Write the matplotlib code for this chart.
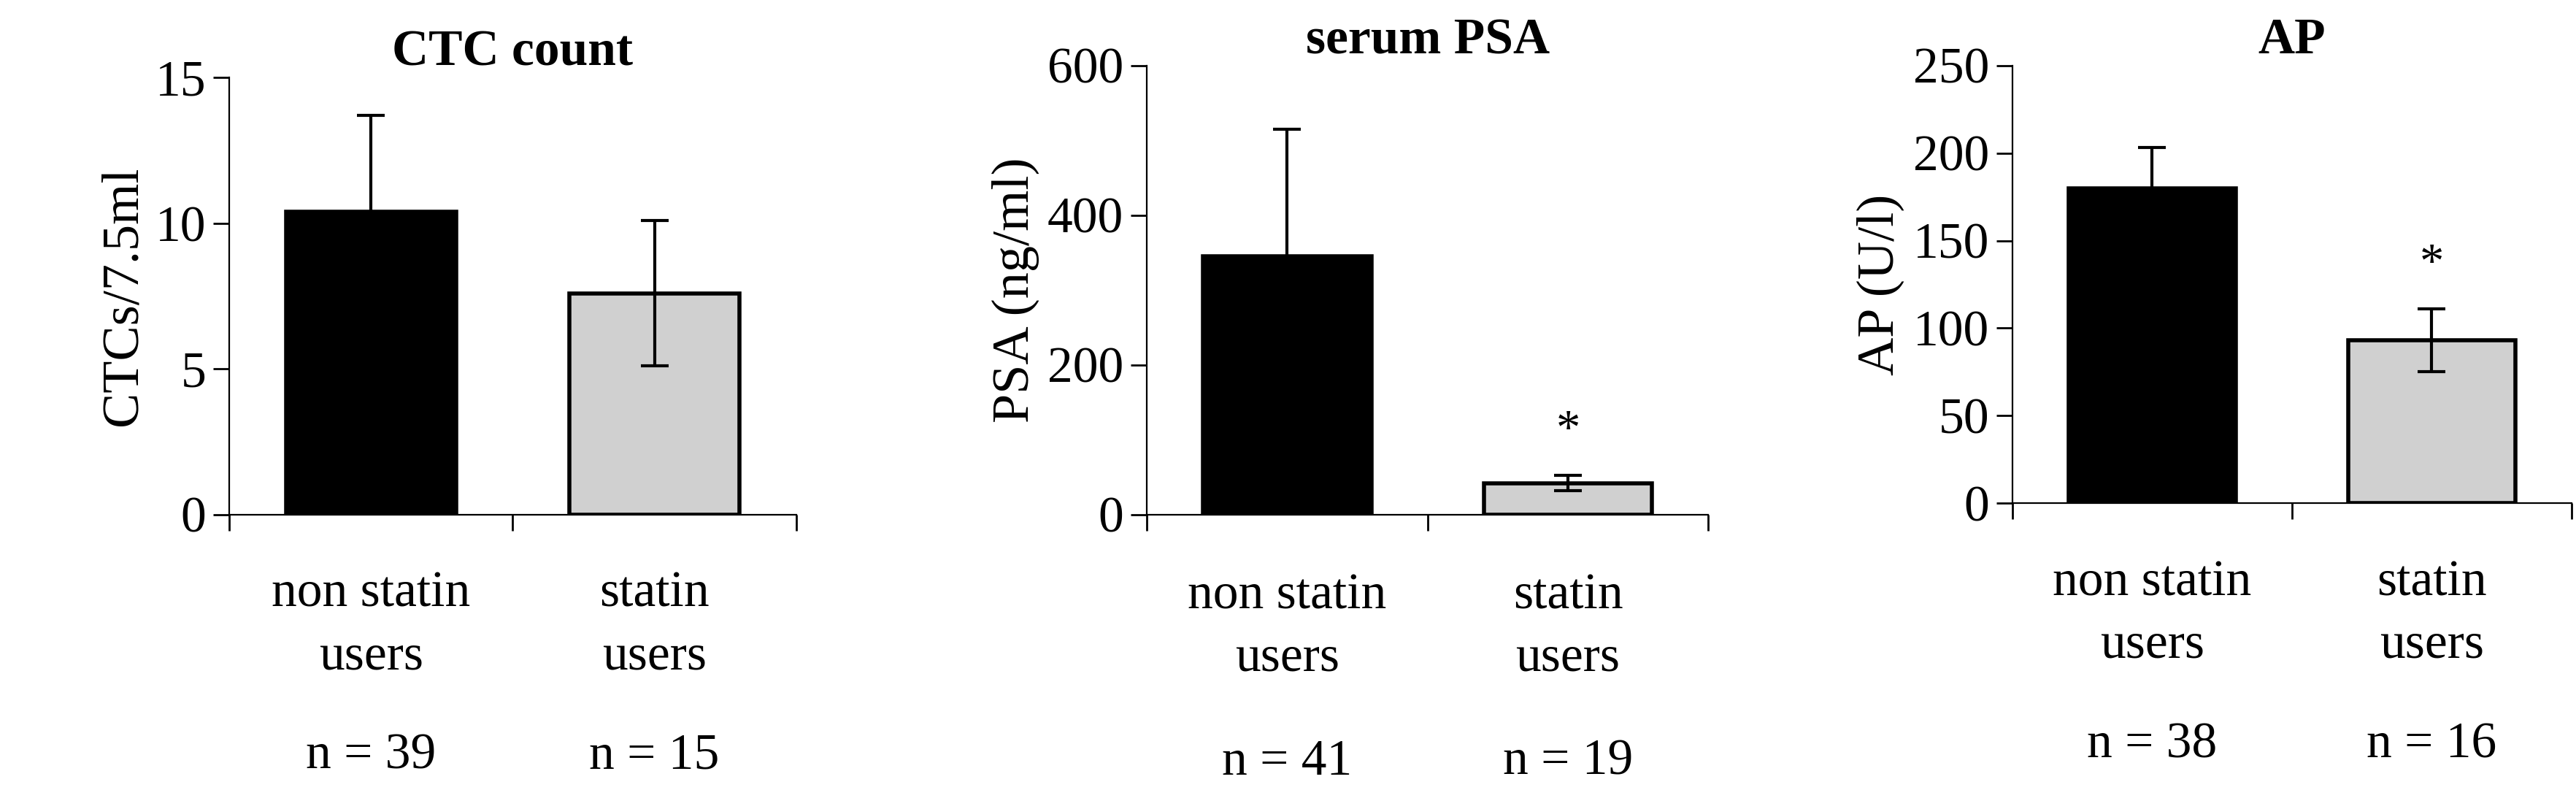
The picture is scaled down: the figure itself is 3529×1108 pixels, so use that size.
import numpy as np
import matplotlib.pyplot as plt

plt.rcParams['font.family'] = ['Liberation Serif', 'DejaVu Serif']

groups = ["non statin\nusers", "statin\nusers"]
titles = ["CTC count", "serum PSA", "AP"]
ylabels = ["CTCs/7.5ml", "PSA (ng/ml)", "AP (U/l)"]
means = [[10.4, 7.6], [345, 42], [180, 93]]
errs = [[3.3, 2.5], [170, 10], [23, 18]]
ns = [["n = 39", "n = 15"], ["n = 41", "n = 19"], ["n = 38", "n = 16"]]
ymax = [15, 600, 250]
ystep = [5, 200, 50]
star = [[False, False], [False, True], [False, True]]

fig = plt.figure(figsize=(17.65, 5.54), dpi=200)
boxes = [[0.089, 0.364, 0.22, 0.54], [0.445, 0.364, 0.218, 0.555],
         [0.781, 0.378, 0.217, 0.541]]
colors = ["black", "#d0d0d0"]

for i in range(3):
    ax = fig.add_axes(boxes[i])
    x = np.arange(2)
    ax.bar(x, means[i], width=0.6, color=colors, edgecolor="black", linewidth=2)
    ax.errorbar(x, means[i], yerr=errs[i], fmt="none", ecolor="black",
                capsize=7, elinewidth=1.5, capthick=1.5)
    for j in range(2):
        if star[i][j]:
            ax.text(x[j], means[i][j] + errs[i][j] + ymax[i] * 0.05, "*",
                    ha="center", va="bottom", fontsize=24)
    ax.set_xlim(-0.5, 1.5)
    ax.set_ylim(0, ymax[i])
    ax.set_yticks(np.arange(0, ymax[i] + 1, ystep[i]))
    ax.set_xticks([-0.5, 0.5, 1.5])
    ax.set_xticklabels([])
    ax.tick_params(axis="x", length=8, width=1, direction="out")
    ax.tick_params(axis="y", length=8, width=1, labelsize=25)
    for j in range(2):
        ax.text(x[j], -0.13, groups[j], transform=ax.get_xaxis_transform(),
                ha="center", va="top", fontsize=25, linespacing=1.45)
        ax.text(x[j], -0.5, ns[i][j], transform=ax.get_xaxis_transform(),
                ha="center", va="top", fontsize=25)
    ax.spines["top"].set_visible(False)
    ax.spines["right"].set_visible(False)
    ax.set_ylabel(ylabels[i], fontsize=26)
    ax.set_title(titles[i], fontsize=25, fontweight="bold", pad=6)

fig.savefig("out.png", dpi=200)
